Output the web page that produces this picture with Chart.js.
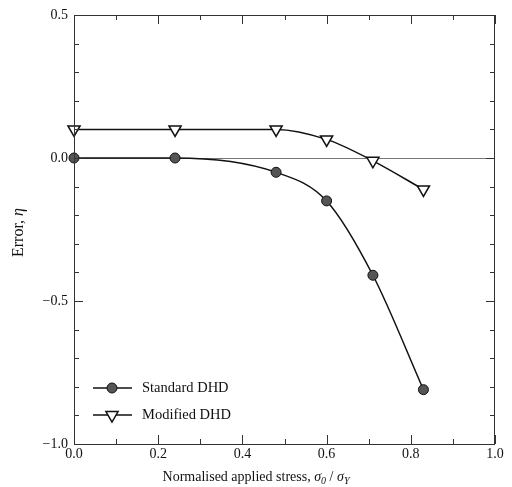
<!DOCTYPE html>
<html>
<head>
<meta charset="utf-8">
<script src="https://cdn.jsdelivr.net/npm/chart.js@4/dist/chart.umd.min.js"></script>
<style>
  html, body { margin: 0; padding: 0; background: #fff; }
  #wrap { width: 512px; height: 487px; }
</style>
</head>
<body>
<div id="wrap"><canvas id="grafico" width="512" height="487"></canvas></div>
<script>
// dados
const tensaoStd = [0.0, 0.24, 0.48, 0.6, 0.71, 0.83];
const erroStd = [0.0, 0.0, -0.05, -0.15, -0.41, -0.81];
const tensaoMod = [0.0, 0.24, 0.48, 0.6, 0.71, 0.83];
const erroMod = [0.1, 0.1, 0.1, 0.065, -0.01, -0.11];
const rotulosX = [0.0, 0.2, 0.4, 0.6, 0.8, 1.0];
const rotulosY = [0.5, 0.0, -0.5, -1.0];
const nomesSeries = ['Standard DHD', 'Modified DHD'];

const fonte = '"Liberation Serif", "Times New Roman", serif';

function pontos(xs, ys) {
    return xs.map((x, i) => ({ x: x, y: ys[i] }));
}

function formatar(v) {
    const s = Math.abs(v).toFixed(1);
    return v < 0 ? '\u2212' + s : s;
}

// marcas internas nos quatro lados + moldura
const moldura = {
    id: 'moldura',
    afterDraw(chart) {
        const ctx = chart.ctx;
        const a = chart.chartArea;
        const sx = chart.scales.x, sy = chart.scales.y;
        ctx.save();
        ctx.strokeStyle = '#333';
        ctx.lineWidth = 1;
        ctx.strokeRect(a.left + 0.5, a.top + 0.5, a.right - a.left - 1, a.bottom - a.top);
        ctx.beginPath();
        sx.ticks.forEach(t => {
            const px = Math.round(sx.getPixelForValue(t.value)) + 0.5;
            const maior = rotulosX.some(r => Math.abs(r - t.value) < 1e-6);
            const len = maior ? 9 : 5;
            ctx.moveTo(px, a.bottom); ctx.lineTo(px, a.bottom - len);
            ctx.moveTo(px, a.top); ctx.lineTo(px, a.top + len);
        });
        sy.ticks.forEach(t => {
            const py = Math.round(sy.getPixelForValue(t.value)) + 0.5;
            const maior = rotulosY.some(r => Math.abs(r - t.value) < 1e-6);
            const len = maior ? 9 : 5;
            ctx.moveTo(a.left, py); ctx.lineTo(a.left + len, py);
            ctx.moveTo(a.right, py); ctx.lineTo(a.right - len, py);
        });
        ctx.stroke();
        ctx.restore();
    }
};

// titulos dos eixos com italico e subscritos
const titulos = {
    id: 'titulos',
    afterDraw(chart) {
        const ctx = chart.ctx;
        const a = chart.chartArea;
        ctx.save();
        ctx.fillStyle = '#111';
        ctx.textBaseline = 'alphabetic';

        // eixo y
        ctx.translate(23, (a.top + a.bottom) / 2 + 3);
        ctx.rotate(-Math.PI / 2);
        const partesY = [['Error, ', '16px ' + fonte], ['\u03b7', 'italic 16px ' + fonte]];
        let largura = 0;
        partesY.forEach(p => { ctx.font = p[1]; largura += ctx.measureText(p[0]).width; });
        let x = -largura / 2;
        partesY.forEach(p => { ctx.font = p[1]; ctx.fillText(p[0], x, 0); x += ctx.measureText(p[0]).width; });
        ctx.setTransform(1, 0, 0, 1, 0, 0);

        // eixo x
        const partesX = [
            ['Normalised applied stress, ', '14px ' + fonte, 0],
            ['\u03c3', 'italic 14px ' + fonte, 0],
            ['0', 'italic 10px ' + fonte, 3],
            [' / ', '14px ' + fonte, 0],
            ['\u03c3', 'italic 14px ' + fonte, 0],
            ['Y', 'italic 10px ' + fonte, 3]
        ];
        largura = 0;
        partesX.forEach(p => { ctx.font = p[1]; largura += ctx.measureText(p[0]).width; });
        x = 256 - largura / 2;
        partesX.forEach(p => { ctx.font = p[1]; ctx.fillText(p[0], x, 481 + p[2]); x += ctx.measureText(p[0]).width; });
        ctx.restore();
    }
};

// legenda dentro da area do grafico
const legenda = {
    id: 'legenda',
    afterDraw(chart) {
        const ctx = chart.ctx;
        const ds = chart.data.datasets;
        ctx.save();
        const linhas = [388, 415];
        ds.forEach((d, i) => {
            const y = linhas[i];
            ctx.strokeStyle = '#111';
            ctx.lineWidth = 1.5;
            ctx.beginPath();
            ctx.moveTo(93, y); ctx.lineTo(132, y);
            ctx.stroke();
            ctx.fillStyle = d.pointBackgroundColor;
            ctx.strokeStyle = d.pointBorderColor;
            ctx.lineWidth = d.pointBorderWidth;
            ctx.beginPath();
            if (d.pointStyle === 'circle') {
                ctx.arc(112, y, d.pointRadius, 0, Math.PI * 2);
            } else {
                const r = d.pointRadius;
                ctx.moveTo(112, y + r);
                ctx.lineTo(112 - r * 0.866, y - r / 2);
                ctx.lineTo(112 + r * 0.866, y - r / 2);
                ctx.closePath();
            }
            ctx.fill();
            ctx.stroke();
            ctx.fillStyle = '#111';
            ctx.font = '14.5px ' + fonte;
            ctx.textBaseline = 'middle';
            ctx.fillText(d.label, 142, y);
        });
        ctx.restore();
    }
};

const ctx = document.getElementById('grafico');
new Chart(ctx, {
    type: 'line',
    data: {
        datasets: [{
            label: nomesSeries[0],
            data: pontos(tensaoStd, erroStd),
            borderColor: '#111',
            borderWidth: 1.5,
            pointStyle: 'circle',
            pointRadius: 5,
            pointBackgroundColor: '#555',
            pointBorderColor: '#111',
            pointBorderWidth: 1,
            cubicInterpolationMode: 'monotone',
            fill: false
        }, {
            label: nomesSeries[1],
            data: pontos(tensaoMod, erroMod),
            borderColor: '#111',
            borderWidth: 1.5,
            pointStyle: 'triangle',
            pointRotation: 180,
            pointRadius: 7,
            pointBackgroundColor: '#fff',
            pointBorderColor: '#111',
            pointBorderWidth: 1.5,
            cubicInterpolationMode: 'monotone',
            fill: false
        }]
    },
    options: {
        responsive: false,
        animation: false,
        clip: false,
        layout: { padding: { top: 15, right: 17, left: 0, bottom: 0 } },
        scales: {
            x: {
                type: 'linear',
                min: 0,
                max: 1,
                ticks: {
                    stepSize: 0.1,
                    autoSkip: false,
                    maxRotation: 0,
                    padding: 2,
                    color: '#111',
                    font: { family: fonte, size: 14 },
                    callback: function (v) {
                        return rotulosX.some(r => Math.abs(r - v) < 1e-6) ? formatar(v) : '';
                    }
                },
                grid: { display: false, drawTicks: false },
                border: { display: false },
                afterFit: function (s) { s.height = 43; }
            },
            y: {
                type: 'linear',
                min: -1,
                max: 0.5,
                ticks: {
                    stepSize: 0.1,
                    autoSkip: false,
                    padding: 6,
                    color: '#111',
                    font: { family: fonte, size: 14 },
                    callback: function (v) {
                        return rotulosY.some(r => Math.abs(r - v) < 1e-6) ? formatar(v) : '';
                    }
                },
                grid: {
                    drawTicks: false,
                    lineWidth: 1,
                    color: function (c) {
                        return c.tick && Math.abs(c.tick.value) < 1e-6 ? '#777' : 'rgba(0,0,0,0)';
                    }
                },
                border: { display: false },
                afterFit: function (s) { s.width = 74; }
            }
        },
        plugins: {
            legend: { display: false },
            tooltip: { enabled: false }
        }
    },
    plugins: [moldura, titulos, legenda]
});
</script>
</body>
</html>
